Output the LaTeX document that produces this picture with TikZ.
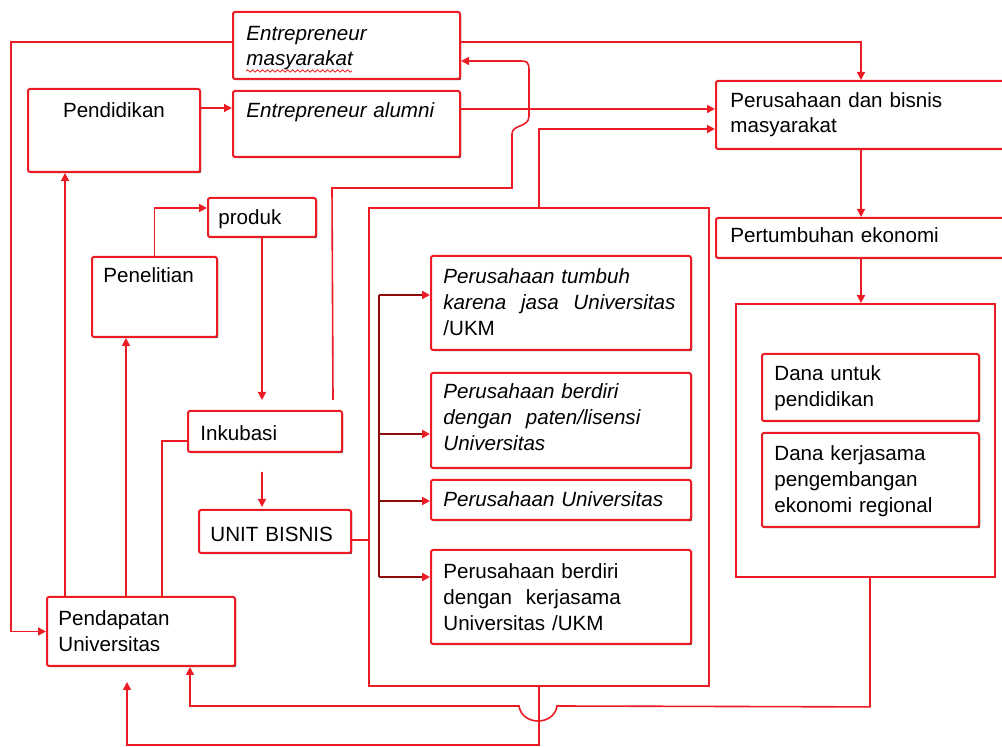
\documentclass[tikz,border=0pt]{standalone}
\usepackage{fontspec}
\setmainfont{Liberation Sans}
\usetikzlibrary{arrows.meta,calc,fit,shadows,decorations.pathmorphing}
\definecolor{merah}{RGB}{236,28,36}
\definecolor{merahtua}{RGB}{140,12,12}
\tikzset{
  kotak/.style={draw=merah, line width=1pt, fill=white, rounded corners=1pt, inner sep=0pt,
    drop shadow={shadow xshift=0.6pt, shadow yshift=-0.6pt, fill=black, opacity=0.75}},
  wadah/.style={draw=merah, line width=0.9pt, inner sep=0pt},
  teks/.style={anchor=base west, inner sep=0pt, text width=140pt, align=left, font=\fontsize{10.3}{13}\selectfont},
  garis/.style={draw=merah, line width=0.8pt},
  panah/.style={garis, -{Triangle[width=4pt,length=4pt]}},
  cabang/.style={draw=merahtua, line width=1pt, -{Triangle[width=4pt,length=4pt,color=merah]}},
}
\begin{document}
\begin{tikzpicture}[x=0.5pt, y=-0.5pt]
\useasboundingbox (0,0) rectangle (1002,747);

\node[wadah, fit={(369,208) (709,686)}] (wpt) {};
\node[wadah, fill=white, fit={(736,304) (995,577)}] (wdana) {};

\node[kotak, fit={(233,12) (460,79)}] (entm) {};
\node[kotak, fit={(28,89) (200,172)}] (pdk) {};
\node[kotak, fit={(233,91) (460,157)}] (enta) {};
\node[kotak, fit={(716,81) (1006,149)}] (pbm) {};
\node[kotak, fit={(716,218) (1006,258)}] (pe) {};
\node[kotak, fit={(762,354) (979,421)}] (du) {};
\node[kotak, fit={(762,433) (979,527)}] (dk) {};
\node[kotak, fit={(431,256) (691,350)}] (pt1) {};
\node[kotak, fit={(431,373) (691,468)}] (pt2) {};
\node[kotak, fit={(431,480) (691,520)}] (pt3) {};
\node[kotak, fit={(431,550) (691,644)}] (pt4) {};
\node[kotak, fit={(208,198) (316,237)}] (prd) {};
\node[kotak, fit={(92,257) (217,337)}] (pnl) {};
\node[kotak, fit={(188,411) (342,452)}] (ink) {};
\node[kotak, fit={(199,510) (351,553)}] (ub) {};
\node[kotak, fit={(47,597) (235,666)}] (pu) {};

\node[teks] (t-entm) at (246,41) {\textit{Entrepreneur}\\[-0.5pt]\textit{masyarakat}};
\node[teks, text width=, anchor=base] (t-pdk) at (114,118) {Pendidikan};
\node[teks] (t-enta) at (246,118) {\textit{Entrepreneur alumni}};
\node[teks] (t-pbm) at (730,108) {Perusahaan dan bisnis\\[-0.5pt]masyarakat};
\node[teks] (t-pe) at (730,243) {Pertumbuhan ekonomi};
\node[teks] (t-prd) at (218,225) {produk};
\node[teks] (t-pnl) at (103,283) {Penelitian};
\node[teks] (t-ink) at (200,441) {Inkubasi};
\node[teks] (t-ub) at (210,542) {UNIT BISNIS};
\node[teks] (t-pu) at (58,626) {Pendapatan\\Universitas};
\node[teks] (t-pt1) at (443,284) {\textit{Perusahaan tumbuh}\\\makebox[116pt][s]{\textit{karena}\hfill\textit{jasa}\hfill\textit{Universitas}}\\/UKM};
\node[teks] (t-pt2) at (443,399) {\textit{Perusahaan berdiri}\\\textit{dengan\ \ paten/lisensi}\\\textit{Universitas}};
\node[teks] (t-pt3) at (443,507) {\textit{Perusahaan Universitas}};
\node[teks] (t-pt4) at (443,579) {Perusahaan berdiri\\dengan\ \ kerjasama\\Universitas /UKM};
\node[teks] (t-du) at (774,381) {Dana untuk\\pendidikan};
\node[teks] (t-dk) at (774,461) {Dana kerjasama\\pengembangan\\ekonomi regional};

\draw[merah, line width=0.4pt, decorate, decoration={snake, amplitude=0.6pt, segment length=2.5pt}] (246,71) -- (352,71);

\path[panah] ($(entm.west)+(0,-3.5)$) -- ++(-221,0) |- (pu.west);
\path[panah] ($(entm.east)+(0,-3.5)$) -| (pbm.north);
\path[panah] (pdk.east |- 0,108) -- (enta.west |- 0,108);
\path[panah] (enta.east |- 0,109) -- (pbm.west |- 0,109);
\path[panah] (wpt.north) |- (pbm.west |- 0,129);
\path[panah] ($(ink.north east)+(-10,-10)$) -- (332,188) -- (512,188) -- (512,134)
  .. controls (512,124) and (529,128) .. (529,116) -- (529,70)
  .. controls (529,61) and (526,61) .. (520,61) -- (entm.east |- 0,61);
\path[panah] (pbm.south) -- (pe.north);
\path[panah] (pe.south) -- (pe.south |- wdana.north);
\path[panah] ($(wdana.south)+(4.5,0)$) -- ++(0,129) -- (557,706)
  .. controls (554,726) and (522,726) .. (519,706) -- (190,706) -- (pu.south -| 190,0);
\path[panah] (wpt.south) -- ++(0,58) -| ($(pu.south)+(-14,15)$);
\path[panah] ($(pu.north west)+(19,0)$) -- ($(pdk.south west)+(38,0)$);
\path[panah] ($(pu.north west)+(80,0)$) -- ($(pnl.south west)+(35,0)$);
\path[garis] ($(pu.north west)+(116,0)$) |- ($(ink.west)+(0,9.5)$);
\path[panah] (pnl.north) |- ($(prd.west)+(0,-9.5)$);
\path[panah] (prd.south) -- ($(prd.south |- ink.north)+(0,-10)$);
\path[panah] ($(ink.south)+(-3,19)$) -- ($(ub.north)+(-13,-2)$);
\path[garis] ($(ub.east)+(0,8.5)$) -- (wpt.west |- 0,540);

\coordinate (kr1) at (379,295);
\coordinate (kr2) at (379,577);
\path[draw=merahtua, line width=1pt] (kr1) -- (kr2);
\foreach \k/\yy in {pt1/295, pt2/434, pt3/501, pt4/577}
  \path[cabang] (kr1 |- 0,\yy) -- (\k.west |- 0,\yy);
\end{tikzpicture}
\end{document}
